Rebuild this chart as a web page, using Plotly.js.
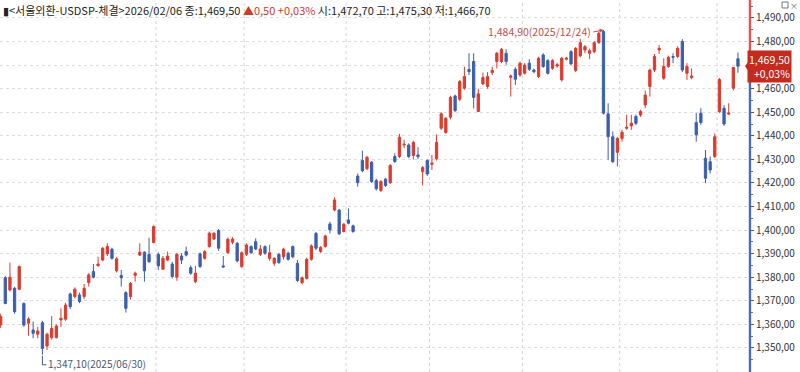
<!DOCTYPE html>
<html>
<head>
<meta charset="utf-8">
<script src="https://cdn.plot.ly/plotly-3.0.1.min.js"></script>
<style>html,body{margin:0;padding:0;background:#fff;}#chart{width:800px;height:372px;}</style>
</head>
<body>
<div id="chart"></div>
<script>
// ---- data (USD/KRW daily, Seoul FX, index 0 = mid-June 2025 ... last = 2026/02/06) ----
const openV = [
1359.8,1379.8,1374.6,1375.3,1374.9,1368.9,1360.5,1357.6,1355.8,1360.7,
1350.8,1354.4,1354.4,1361.9,1362.2,1372.9,1371.8,1372.5,1371.8,1377.7,
1382.4,1384.9,1387.3,1389.9,1391.9,1382.7,1380.7,1373.5,1371.8,1380.8,
1389.4,1390.6,1389.7,1394.7,1389.7,1383.4,1387.3,1385.6,1380.0,1389.0,
1390.9,1384.1,1378.1,1389.9,1388.0,1393.0,1396.2,1399.8,1384.8,1390.4,
1394.8,1394.4,1384.5,1389.7,1393.0,1395.1,1389.7,1393.0,1388.0,1385.9,
1389.7,1388.7,1390.2,1393.0,1385.9,1377.7,1379.5,1387.6,1398.6,1390.9,
1393.0,1402.6,1408.5,1408.5,1399.4,1404.3,1401.8,1422.9,1429.5,1426.0,
1428.8,1421.0,1416.8,1421.6,1420.1,1431.2,1431.2,1436.1,1436.1,1431.6,
1431.9,1424.8,1429.5,1427.9,1430.2,1443.2,1441.4,1447.9,1456.9,1455.5,
1460.2,1468.2,1471.5,1450.3,1462.0,1460.9,1466.8,1471.5,1471.5,1475.0,
1464.8,1468.2,1465.8,1466.5,1470.8,1467.9,1465.1,1474.3,1471.9,1468.6,
1469.6,1463.7,1472.5,1475.7,1467.7,1473.9,1476.4,1475.0,1475.7,1479.5,
1484.2,1449.3,1439.6,1433.0,1438.9,1443.2,1444.2,1448.2,1448.8,1453.1,
1460.9,1467.9,1476.4,1464.4,1469.4,1473.6,1473.6,1480.0,1466.5,1464.7,
1445.6,1449.6,1430.5,1429.0,1431.2,1450.3,1451.7,1449.2,1460.2,1472.7];
const highV = [
1364.5,1380.5,1386.2,1376.0,1385.0,1369.3,1363.0,1361.2,1359.0,1361.5,
1356.5,1363.6,1360.0,1366.8,1369.2,1373.5,1375.7,1373.5,1377.1,1381.7,
1385.6,1388.7,1392.8,1394.4,1392.5,1388.5,1383.1,1374.0,1378.0,1382.4,
1394.4,1391.0,1396.8,1402.0,1390.5,1389.0,1390.9,1386.5,1390.3,1390.2,
1393.0,1385.0,1384.8,1390.5,1391.5,1399.4,1399.0,1400.5,1389.0,1396.8,
1397.0,1395.0,1391.0,1394.4,1393.5,1396.5,1393.7,1393.5,1393.7,1388.5,
1390.3,1392.5,1390.8,1393.5,1387.3,1380.3,1388.3,1394.0,1399.2,1393.2,
1398.0,1403.5,1413.9,1409.0,1403.0,1409.2,1402.3,1424.0,1433.7,1431.5,
1429.3,1421.8,1421.2,1422.2,1428.0,1432.6,1440.8,1438.3,1436.8,1437.8,
1435.2,1427.2,1430.0,1431.9,1440.6,1450.0,1448.0,1457.0,1457.5,1463.7,
1469.3,1475.0,1475.0,1460.0,1466.8,1467.0,1469.3,1475.6,1477.3,1476.7,
1466.0,1469.0,1471.5,1470.8,1472.5,1468.5,1473.5,1475.0,1472.5,1472.5,
1471.0,1473.5,1473.5,1476.3,1477.7,1481.0,1478.5,1477.0,1480.2,1484.2,
1484.9,1453.8,1441.8,1439.5,1442.5,1448.9,1448.9,1449.0,1451.0,1459.2,
1468.5,1474.7,1478.5,1472.9,1474.0,1475.0,1478.0,1481.0,1470.8,1468.6,
1449.6,1451.7,1434.0,1431.2,1441.0,1464.5,1453.0,1453.8,1469.0,1475.3];
const lowV = [
1358.5,1368.5,1374.0,1364.5,1374.5,1359.0,1355.2,1354.1,1354.1,1347.1,
1349.1,1353.5,1354.0,1359.0,1361.5,1366.5,1371.0,1369.0,1370.8,1376.0,
1379.5,1384.5,1386.8,1389.0,1387.5,1382.0,1376.0,1365.0,1370.5,1378.1,
1389.0,1378.1,1386.0,1394.4,1383.1,1383.0,1386.8,1379.5,1378.5,1385.6,
1388.8,1381.0,1377.5,1384.0,1387.5,1392.5,1395.8,1391.2,1384.0,1390.0,
1394.0,1386.3,1384.0,1389.0,1389.8,1391.5,1389.0,1389.5,1387.0,1384.8,
1385.7,1387.5,1387.0,1388.0,1378.0,1377.0,1379.0,1387.0,1391.5,1390.3,
1392.5,1398.6,1408.0,1398.0,1399.0,1402.4,1398.8,1418.4,1424.5,1425.5,
1420.0,1416.8,1416.2,1418.3,1419.6,1428.5,1430.5,1434.7,1430.5,1430.0,
1430.1,1418.9,1423.0,1425.5,1429.5,1442.5,1440.8,1447.0,1450.0,1454.8,
1459.5,1465.8,1451.6,1450.0,1461.5,1460.0,1465.8,1468.6,1470.8,1470.1,
1456.6,1461.6,1465.0,1466.0,1467.5,1466.5,1464.5,1468.8,1466.0,1468.0,
1468.8,1463.0,1472.0,1470.0,1467.0,1473.3,1475.0,1472.5,1475.0,1479.0,
1449.0,1429.8,1428.5,1427.0,1437.5,1442.5,1442.5,1444.5,1448.0,1451.7,
1456.6,1467.0,1474.7,1463.7,1468.8,1470.8,1473.0,1467.0,1463.7,1464.0,
1437.5,1444.6,1419.9,1424.0,1430.5,1449.6,1444.2,1448.8,1459.2,1466.7];
const closeV = [
1363.3,1368.9,1380.0,1365.4,1384.5,1359.7,1362.3,1356.2,1357.2,1349.8,
1355.8,1358.3,1359.3,1362.6,1368.2,1367.5,1374.9,1369.7,1375.3,1381.0,
1380.0,1385.6,1392.3,1393.0,1388.0,1387.8,1379.8,1366.8,1377.4,1381.7,
1390.6,1382.7,1386.6,1401.5,1384.8,1388.0,1389.0,1380.3,1389.7,1387.3,
1389.4,1381.7,1381.7,1384.5,1390.9,1398.7,1398.7,1392.3,1384.4,1396.1,
1396.2,1386.9,1390.4,1393.7,1390.4,1392.0,1392.0,1390.2,1390.4,1388.0,
1386.2,1391.9,1387.6,1388.7,1378.6,1379.8,1387.6,1393.3,1392.3,1392.6,
1397.5,1400.1,1412.8,1398.4,1402.5,1402.9,1399.4,1420.1,1425.2,1430.9,
1420.6,1417.5,1420.6,1418.9,1427.4,1429.1,1439.4,1436.4,1431.2,1437.2,
1431.2,1426.5,1423.8,1428.4,1437.2,1449.3,1447.4,1456.3,1450.7,1463.0,
1465.1,1467.2,1456.3,1457.8,1464.7,1465.1,1467.7,1475.0,1476.7,1471.5,
1465.4,1464.0,1470.8,1470.0,1468.2,1467.2,1472.9,1469.4,1466.5,1471.9,
1470.1,1472.9,1472.9,1470.5,1477.1,1479.5,1477.8,1476.1,1479.5,1483.5,
1449.6,1439.6,1429.0,1438.9,1441.5,1443.6,1445.3,1445.3,1450.3,1457.3,
1467.9,1473.6,1477.1,1469.4,1473.3,1473.3,1477.1,1467.9,1469.4,1465.4,
1440.4,1445.6,1422.0,1425.5,1439.6,1463.9,1445.0,1449.6,1469.0,1469.5];
// first trading day of each month (Aug .. Feb), as candle index
const monthStarts = [34, 53, 75, 93, 113, 134, 155];
const lastDate = '2026/02/06';
const maxDate = '2025/12/24';
const minDate = '2025/06/30';
const tickVals = [1350,1360,1370,1380,1390,1400,1410,1420,1430,1440,1450,1460,1470,1480,1490];
// 1,470,00 sits behind the current-price tag in the reference, so its label is blank
const tickText = ['1,350,00','1,360,00','1,370,00','1,380,00','1,390,00','1,400,00','1,410,00','1,420,00',
                  '1,430,00','1,440,00','1,450,00','1,460,00','','1,480,00','1,490,00'];
const seriesName = '서울외환-USDSP-체결';

// ---- styling ----
const RED = '#db3b2e', BLUE = '#3b5fad';
const FONT = 'Noto Sans CJK KR, Noto Sans, sans-serif';
const Y_MIN = 1339.8, Y_MAX = 1497.6;
const X_MIN = -0.145, X_MAX = 161.38;

function fmt(v){
  const s = Math.abs(v).toFixed(2).split('.');
  return s[0].replace(/\B(?=(\d{3})+(?!\d))/g, ',') + ',' + s[1];
}

const n = closeV.length;
const idx = closeV.map((_, i) => i);
const lastO = openV[n-1], lastH = highV[n-1], lastL = lowV[n-1], lastC = closeV[n-1];
const chg = lastC - closeV[n-2];
const pct = chg / closeV[n-2] * 100;
let maxI = 0, minI = 0;
highV.forEach((v, i) => { if (v > highV[maxI]) maxI = i; });
lowV.forEach((v, i) => { if (v < lowV[minI]) minI = i; });
const frac = (lastC - Y_MIN) / (Y_MAX - Y_MIN);

const trace = {
  type: 'candlestick', x: idx, open: openV, high: highV, low: lowV, close: closeV,
  increasing: {line: {color: RED, width: 1}, fillcolor: RED},
  decreasing: {line: {color: BLUE, width: 1}, fillcolor: BLUE},
  whiskerwidth: 0, hoverinfo: 'skip', showlegend: false
};

const shapes = monthStarts.map(m => ({
  type: 'line', xref: 'x', yref: 'paper', x0: m - 0.5, x1: m - 0.5, y0: 0, y1: 1,
  line: {color: '#d2d2d2', width: 1, dash: '3px,3px'}, layer: 'below'
}));
shapes.push({type: 'line', xref: 'paper', yref: 'paper', x0: 1.0013, x1: 1.0013, y0: frac, y1: 1,
  line: {color: '#e05252', width: 2.4}});
shapes.push({type: 'line', xref: 'paper', yref: 'paper', x0: 1.0013, x1: 1.0013, y0: 0, y1: frac,
  line: {color: '#4a6db3', width: 2.4}});
// price tag notch
shapes.push({type: 'path', xref: 'paper', yref: 'y', xsizemode: 'pixel', ysizemode: 'pixel',
  xanchor: 1, yanchor: lastC, path: 'M-4,0 L1,7 L1,-7 Z', fillcolor: '#c42a1e', line: {width: 0}});
// low-point connector
shapes.push({type: 'path', xref: 'x', yref: 'y', xsizemode: 'pixel', ysizemode: 'pixel',
  xanchor: minI, yanchor: lowV[minI], path: 'M0,-1 L0,-10 L4,-10', line: {color: '#4b5873', width: 1}});
// window icon box
shapes.push({type: 'rect', xref: 'paper', yref: 'paper', x0: 1.0441, x1: 1.0521, y0: 0.9785, y1: 0.9946,
  line: {color: '#777', width: 1}, fillcolor: 'rgba(0,0,0,0)'});

const header = '▮&lt;' + seriesName + '&gt;' + lastDate + ' 종:' + fmt(lastC) +
  ' <span style="color:#d0392b">' + (chg >= 0 ? '▲' : '▼') + fmt(chg) + ' ' + (pct >= 0 ? '+' : '-') + fmt(pct) + '%</span>' +
  ' 시:' + fmt(lastO) + ' 고:' + fmt(lastH) + ' 저:' + fmt(lastL);

const annotations = [
  {xref: 'paper', yref: 'paper', x: 0, y: 1, xanchor: 'left', yanchor: 'top', xshift: 1, yshift: 0,
   text: header, showarrow: false, font: {family: FONT, size: 11, color: '#222'}},
  {xref: 'paper', yref: 'y', x: 1, y: lastC, xanchor: 'left', yanchor: 'middle', xshift: -2,
   text: fmt(lastC) + '<br>' + (pct >= 0 ? '+' : '-') + fmt(pct) + '%', align: 'right', showarrow: false,
   bgcolor: '#c42a1e', borderpad: 1, font: {family: FONT, size: 10.5, color: '#fff'}},
  {xref: 'x', yref: 'y', x: maxI, y: highV[maxI], xanchor: 'right', yanchor: 'middle',
   ax: -10, ay: 2, text: fmt(highV[maxI]) + '(' + maxDate + ')', showarrow: true,
   arrowhead: 2, arrowsize: 0.8, arrowwidth: 1, arrowcolor: '#c0504d', standoff: 0,
   font: {family: FONT, size: 10.5, color: '#c0504d'}},
  {xref: 'x', yref: 'y', x: minI, y: lowV[minI], xanchor: 'left', yanchor: 'middle', xshift: 4, yshift: -9,
   text: fmt(lowV[minI]) + '(' + minDate + ')', showarrow: false,
   font: {family: FONT, size: 10, color: '#4b5873'}},
  {xref: 'paper', yref: 'paper', x: 1.0521, y: 1, xanchor: 'left', yanchor: 'top', yshift: 2,
   text: '×', showarrow: false, font: {family: FONT, size: 8, color: '#666'}}
];

const layout = {
  width: 800, height: 372, margin: {l: 0, r: 51, t: 0, b: 0},
  paper_bgcolor: '#fff', plot_bgcolor: '#fff', showlegend: false,
  xaxis: {range: [X_MIN, X_MAX], showgrid: false, zeroline: false, showticklabels: false,
          ticks: '', showline: false, rangeslider: {visible: false}, fixedrange: true},
  yaxis: {side: 'right', range: [Y_MIN, Y_MAX], tickmode: 'array', tickvals: tickVals, ticktext: tickText,
          ticks: 'outside', ticklen: 4, tickwidth: 1, tickcolor: '#555',
          showgrid: true, gridcolor: '#dddddd', griddash: '3px,3px', zeroline: false, showline: false,
          tickfont: {family: FONT, size: 10, color: '#333'}, fixedrange: true,
          minor: {tickmode: 'linear', tick0: 1345, dtick: 10, ticks: 'outside', ticklen: 3, tickcolor: '#777', showgrid: false}},
  shapes: shapes, annotations: annotations
};

Plotly.newPlot('chart', [trace], layout, {staticPlot: true, displayModeBar: false});
</script>
</body>
</html>
